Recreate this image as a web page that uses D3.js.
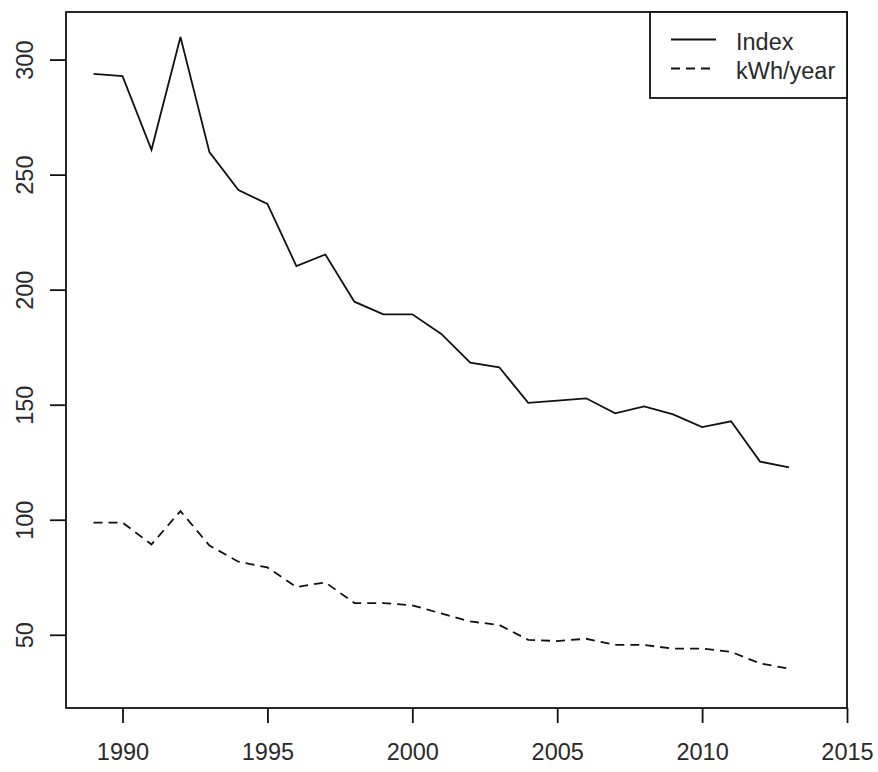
<!DOCTYPE html>
<html>
<head>
<meta charset="utf-8">
<script src="https://cdn.jsdelivr.net/npm/d3@7"></script>
<style>
  html, body { margin: 0; padding: 0; background: #fff; }
  text { font-family: "Liberation Sans", Arial, sans-serif; fill: #2a2a2a; }
</style>
</head>
<body>
<script>
// values
var years = [1989, 1990, 1991, 1992, 1993, 1994, 1995, 1996, 1997, 1998, 1999, 2000,
             2001, 2002, 2003, 2004, 2005, 2006, 2007, 2008, 2009, 2010, 2011, 2012, 2013];
var indexValues = [294, 293, 261, 310, 260, 243.5, 237.5, 210.5, 215.5, 195, 189.5, 189.5,
                   181, 168.5, 166.5, 151, 152, 153, 146.5, 149.5, 146, 140.5, 143, 125.5, 123];
var kwhValues = [99, 99, 89.5, 104, 89, 82, 79.5, 71, 73, 64, 64, 63,
                 59.5, 56, 54.5, 48, 47.5, 48.5, 45.8, 45.8, 44.2, 44.2, 42.8, 37.8, 35.5];
var xTicks = [1990, 1995, 2000, 2005, 2010, 2015];
var yTicks = [50, 100, 150, 200, 250, 300];
var legendLabels = ["Index", "kWh/year"];

var width = 878, height = 772;
var box = { left: 66, right: 847, top: 12, bottom: 708 };

var svg = d3.select("body").append("svg")
	.attr("width", width)
	.attr("height", height);

var x = d3.scaleLinear().domain([1988.05, 2015]).range([box.left, box.right]);
var y = d3.scaleLinear().domain([18.4, 320.9]).range([box.bottom, box.top]);

// plot frame
svg.append("rect")
	.attr("x", box.left).attr("y", box.top)
	.attr("width", box.right - box.left).attr("height", box.bottom - box.top)
	.attr("fill", "none").attr("stroke", "#111").attr("stroke-width", 1.8);

// x axis (R style: ticks pointing out, labels below)
var xAxis = d3.axisBottom(x).tickValues(xTicks).tickSize(15).tickPadding(20).tickFormat(d3.format("d"));
var gx = svg.append("g").attr("transform", "translate(0," + box.bottom + ")").call(xAxis);
gx.select(".domain").remove();
gx.selectAll("line").attr("stroke", "#111").attr("stroke-width", 1.8);
gx.selectAll("text").attr("font-size", 23.5).style("font-family", "Liberation Sans, Arial, sans-serif").attr("fill", "#2a2a2a");

// y axis, labels rotated like R's default las=0
var gy = svg.append("g");
gy.selectAll("line").data(yTicks).enter().append("line")
	.attr("x1", box.left - 16).attr("x2", box.left)
	.attr("y1", function(d) { return y(d); }).attr("y2", function(d) { return y(d); })
	.attr("stroke", "#111").attr("stroke-width", 1.8);
gy.selectAll("text").data(yTicks).enter().append("text")
	.attr("transform", function(d) { return "translate(33," + y(d) + ") rotate(-90)"; })
	.attr("text-anchor", "middle")
	.attr("font-size", 23.5)
	.text(function(d) { return d; });

// series
var lineGen = function(vals) {
	return d3.line()
		.x(function(d, i) { return x(years[i]); })
		.y(function(d) { return y(d); })(vals);
};
svg.append("path").attr("d", lineGen(indexValues))
	.attr("fill", "none").attr("stroke", "#111").attr("stroke-width", 1.8);
svg.append("path").attr("d", lineGen(kwhValues))
	.attr("fill", "none").attr("stroke", "#111").attr("stroke-width", 1.8)
	.attr("stroke-dasharray", "9,6");

// legend
var legend = svg.append("g");
legend.append("rect")
	.attr("x", 650).attr("y", box.top)
	.attr("width", box.right - 650).attr("height", 86)
	.attr("fill", "#fff").attr("stroke", "#111").attr("stroke-width", 1.8);
legendLabels.forEach(function(lab, i) {
	var ly = 39.5 + i * 29;
	legend.append("line")
		.attr("x1", 671).attr("x2", 716).attr("y1", ly).attr("y2", ly)
		.attr("stroke", "#111").attr("stroke-width", 1.8)
		.attr("stroke-dasharray", i === 1 ? "9,6" : null);
	legend.append("text")
		.attr("x", 736).attr("y", ly + 10.5)
		.attr("font-size", 23.5)
		.text(lab);
});
</script>
</body>
</html>
